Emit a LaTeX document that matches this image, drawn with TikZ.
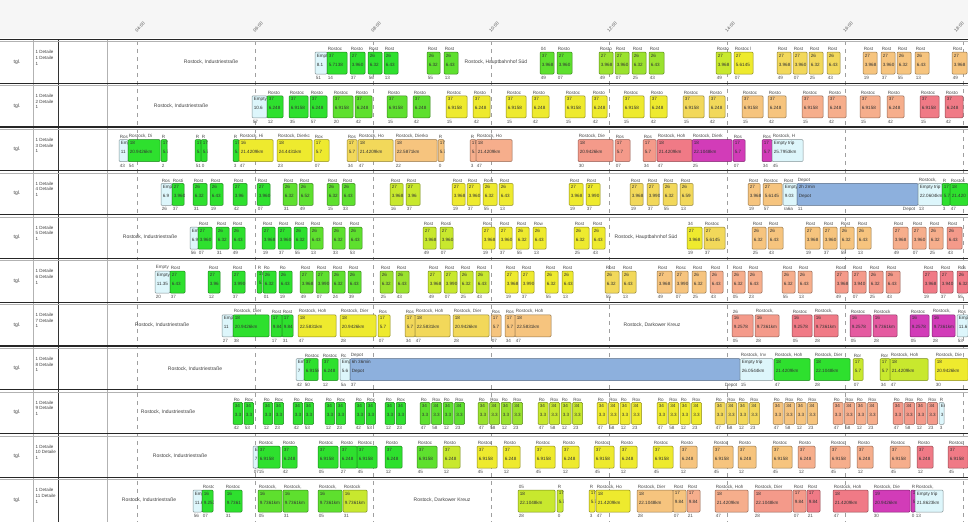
\documentclass[tikz,border=0pt]{standalone}
\usepackage{fontspec}
\setmainfont{Liberation Sans}

% Farben der Fahrten (Tagesverlauf)
\definecolor{gA}{HTML}{2EE02E}
\definecolor{gB}{HTML}{5EE02E}
\definecolor{gC}{HTML}{9AE22E}
\definecolor{gD}{HTML}{C8E82E}
\definecolor{gE}{HTML}{EEEA2E}
\definecolor{gF}{HTML}{F2D85A}
\definecolor{gG}{HTML}{F6C47E}
\definecolor{gH}{HTML}{F6AE8C}
\definecolor{gI}{HTML}{F49A8A}
\definecolor{gJ}{HTML}{F07A86}
\definecolor{gK}{HTML}{E55AA0}
\definecolor{gL}{HTML}{D23CB8}
\definecolor{leer}{HTML}{DDF6FB}
\definecolor{depot}{HTML}{8DB0DD}

\tikzset{
  fahrt/.style={draw=#1!60!black, fill=#1, line width=0.5pt, rounded corners=1pt,
    minimum height=22pt, inner sep=0pt, outer sep=0pt},
  innen/.style={font=\fontsize{4.6}{9}\selectfont, align=left, inner sep=1.6pt,
    anchor=north west, text=black!80},
  oben/.style={font=\fontsize{4.6}{5}\selectfont, inner sep=0.6pt, anchor=south west, text=black!70},
  unten/.style={font=\fontsize{4.6}{5}\selectfont, inner sep=0.6pt, anchor=north west, text=black!70},
  ort/.style={font=\fontsize{5}{6}\selectfont, text=black!75},
  spalte/.style={font=\fontsize{4.5}{5.6}\selectfont, align=left, anchor=north west,
    inner sep=0pt, text=black!75},
  zeit/.style={font=\fontsize{4.5}{5}\selectfont, rotate=45, text=black!70},
  gitter/.style={gray!75, line width=0.5pt, dash pattern=on 4pt off 4pt},
  trenn/.style={black!85, line width=1.3pt},
  trennb/.style={gray!60, line width=0.5pt},
}

% eine Fahrt: Name, x, Breite, Farbe, oben, innen 1, innen 2, unten
\newcommand{\fahrt}[8]{%
  \node[fahrt=#4, minimum width=#3pt] (#1) at (#2+#3/2, \T+23) {};
  \begin{scope}
    \clip (#2, \T+1) rectangle (#2+#3, \T+34);
    \node[oben] at (#2, \T+11.5) {#5};
    \node[innen] at (#1.north west) {#6\\#7};
  \end{scope}
  \node[unten] at (#2, \T+35.5) {#8};
}
% ein Umlauf (Zeile)
\newcommand{\umlauf}[2]{%
  \pgfmathsetmacro\T{40+43.8*(#1-1)}%
  \foreach \xa/\wb/\fb/\ob/\ia/\ib/\ub [count=\i] in {#2} {%
    \fahrt{r#1-\i}{\xa}{\wb}{\fb}{\ob}{\ia}{\ib}{\ub}}%
}

\begin{document}
\begin{tikzpicture}[x=1pt, y=-1pt]
  \useasboundingbox (0,0) rectangle (968,522);
  \fill[white] (0,0) rectangle (968,522);
  % Kopfzeile
  \fill[gray!7] (0,0) rectangle (968,38);

  % Zeitraster
  \foreach \g [count=\i] in {04,06,08,10,12,14,16,18} {
    \pgfmathsetmacro\gx{137+118*(\i-1)}
    \draw[gitter] (\gx, 41) -- (\gx, 522);
    \pgfmathsetmacro\lx{min(\gx+3, 959)}
    \node[zeit] (zeit-\i) at (\lx, 27) {\g:00};
  }

  % Spalten links
  \draw[gray!60, line width=0.5pt] (33,40) -- (33,522);
  \draw[black!80, line width=1pt] (58,40) -- (58,522);
  \draw[gray!60, line width=0.5pt] (107,40) -- (107,522);

  % Zeilen
  \foreach \k in {1,...,11} {
    \pgfmathsetmacro\T{40+43.8*(\k-1)}
    \draw[trenn] (0, \T-0.6) -- (968, \T-0.6);
    \draw[trennb] (0, \T+1.6) -- (968, \T+1.6);
    \node[ort] (tgl-\k) at (17, \T+22) {tgl.};
    \begin{scope}
      \clip (34, \T+2) rectangle (57.5, \T+43);
      \node[spalte] (det-\k) at (35.5, \T+10.5) {1 Detaile\\\k\ Detaile\\1};
    \end{scope}
  }

  % Haltestellen ohne Fahrt
  \node[ort] (h1) at (211, 62) {Rostock, Industriestraße};
  \node[ort] (h1b) at (496, 62) {Rostock, Hauptbahnhof Süd};
  \node[ort] (h2) at (181, 105.8) {Rostock, Industriestraße};
  \node[ort] (h5) at (150, 237.2) {Rostock, Industriestraße};
  \node[ort] (h5b) at (646, 237.2) {Rostock, Hauptbahnhof Süd};
  \node[ort] (h7) at (162, 324.8) {Rostock, Industriestraße};
  \node[ort] (h7b) at (652, 324.8) {Rostock, Darkower Kreuz};
  \node[ort] (h8) at (195, 368.6) {Rostock, Industriestraße};
  \node[ort] (h9) at (168, 412.4) {Rostock, Industriestraße};
  \node[ort] (h10) at (180, 456.2) {Rostock, Industriestraße};
  \node[ort] (h11) at (149, 500) {Rostock, Industriestraße};
  \node[ort] (h11b) at (442, 500) {Rostock, Darkower Kreuz};

  % Umlauf 1
  \umlauf{1}{315/12/leer/{}/{Empty trip}/{8.1}/51, 327/20/gA/{Rostoc}/{37}/{5.7138}/14,
    350/15/gA/{Rosto}/{27}/{3.960}/37, 368/14/gA/{Rost}/{26}/{6.32}/56,
    384/14/gA/{Rost}/{26}/{6.43}/13, 427/13/gB/{Rost}/{26}/{6.32}/55,
    444/14/gB/{Rost}/{26}/{6.43}/13, 540/14/gB/{04}/{37}/{3.968}/49,
    557/15/gB/{Rosto}/{27}/{3.960}/07, 599/14/gC/{Rosto}/{27}/{3.968}/49,
    615/14/gC/{Rost}/{27}/{3.960}/07, 632/14/gC/{Rost}/{26}/{6.32}/25,
    649/15/gC/{Rost}/{26}/{6.43}/43, 716/15/gD/{Rosto}/{27}/{3.968}/49,
    734/19/gE/{Rostoc l}/{27}/{5.6145}/07, 777/14/gF/{Rost}/{27}/{3.968}/49,
    793/14/gF/{Rost}/{27}/{3.960}/07, 809/14/gF/{Rost}/{26}/{6.32}/25,
    827/13/gF/{Rost}/{26}/{6.43}/43, 863/14/gG/{Rost}/{27}/{3.968}/19,
    881/14/gG/{Rost}/{27}/{3.960}/37, 897/14/gG/{Rost}/{26}/{6.32}/55,
    915/14/gG/{Rost}/{26}/{6.43}/13, 952/15/gG/{Rost}/{27}/{3.968}/49}

  % Umlauf 2
  \umlauf{2}{252/15/leer/{}/{Empty trip}/{10.6}/57, 267/16/gA/{Rosto}/{37}/{6.248}/12,
    289/19/gA/{Rostoc}/{37}/{6.9158}/35, 310/17/gA/{Rosto}/{37}/{6.248}/57,
    333/20/gB/{Rostoc}/{37}/{6.9158}/20, 355/17/gB/{Rosto}/{37}/{6.248}/42,
    387/20/gB/{Rosto}/{37}/{6.9158}/15, 413/17/gB/{Rosto}/{37}/{6.248}/42,
    446/21/gE/{Rostoc}/{37}/{6.9158}/15, 473/17/gE/{Rosto}/{37}/{6.248}/42,
    506/20/gE/{Rostoc}/{37}/{6.9158}/15, 532/17/gE/{Rosto}/{37}/{6.248}/42,
    565/20/gE/{Rostoc}/{37}/{6.9158}/15, 592/15/gE/{Rosto}/{37}/{6.248}/42,
    623/21/gE/{Rostoc}/{37}/{6.9158}/15, 650/17/gE/{Rosto}/{37}/{6.248}/42,
    683/21/gF/{Rostoc}/{37}/{6.9158}/15, 709/16/gF/{Rosto}/{37}/{6.248}/42,
    742/21/gG/{Rostoc}/{37}/{6.9158}/15, 768/18/gG/{Rosto}/{37}/{6.248}/42,
    802/21/gH/{Rostoc}/{37}/{6.9158}/15, 828/18/gH/{Rosto}/{37}/{6.248}/42,
    860/20/gH/{Rostoc}/{37}/{6.9158}/15, 887/17/gH/{Rosto}/{37}/{6.248}/42,
    920/19/gJ/{Rostoc}/{37}/{6.9158}/15, 945/18/gJ/{Rosto}/{37}/{6.248}/42}

  % Umlauf 3
  \umlauf{3}{119/9/leer/{Ros}/{Empty trip}/{11}/43, 128/32/gA/{Rostock, Di}/{18}/{20.9426km}/54,
    161/6/gA/{R}/{17}/{5.7}/2, 195/6/gA/{R}/{17}/{5.7}/51, 201/6/gA/{R}/{17}/{5.7}/0,
    233/6/gA/{R}/{17}/{5.7}/3, 239/34/gE/{Rostock, Hi}/{16}/{21.4209km}/47,
    277/35/gE/{Rostock, Dierkc}/{18}/{24.4431km}/23, 314/15/gE/{Rox}/{17}/{5.7}/07,
    347/10/gF/{Ros}/{17}/{5.7}/34, 358/35/gF/{Rostock, Ho}/{18}/{21.4209km}/47,
    395/42/gG/{Rostock, Dierko}/{18}/{22.5871km}/22, 438/6/gG/{R}/{17}/{5.7}/0,
    470/6/gH/{R}/{17}/{5.7}/3, 476/36/gH/{Rostock, Ho}/{18}/{21.4209km}/47,
    578/35/gI/{Rostock, Die}/{18}/{20.9426km}/30, 615/15/gI/{Ros}/{17}/{5.7}/07,
    643/13/gI/{Ros}/{17}/{5.7}/34, 657/35/gJ/{Rostock, Hoh}/{18}/{21.4209km}/47,
    692/40/gL/{Rostock, Dierk}/{18}/{22.1048km}/25, 733/12/gL/{Ros}/{17}/{5.7}/07,
    762/10/gL/{Ros}/{17}/{5.7}/34, 772/31/leer/{Rostock, H}/{Empty trip}/{25.7953km}/45}

  % Umlauf 4
  \umlauf{4}{161/11/leer/{Ros}/{Empty trip}/{6.9}/26, 172/12/gA/{Rosti}/{27}/{3.960}/37,
    193/14/gA/{Rost}/{26}/{6.32}/31, 210/13/gA/{Rost}/{26}/{6.43}/19,
    233/14/gA/{Rost}/{27}/{3.96}/42, 257/13/gA/{Rost}/{27}/{3.960}/07,
    283/14/gB/{Rost}/{26}/{6.32}/31, 299/14/gB/{Rost}/{26}/{6.52}/49,
    327/12/gB/{Rost}/{26}/{6.32}/15, 342/13/gB/{Rost}/{26}/{6.43}/33,
    390/13/gD/{Rost}/{27}/{3.968}/16, 406/14/gD/{Rost}/{27}/{3.96}/37,
    452/13/gE/{Rost}/{27}/{3.968}/19, 467/13/gE/{Rost}/{27}/{3.960}/37,
    483/14/gE/{Rost}/{26}/{6.32}/55, 499/14/gE/{Rost}/{26}/{6.43}/13,
    569/14/gE/{Rost}/{27}/{3.968}/19, 586/14/gE/{Rost}/{27}/{3.990}/37,
    630/13/gF/{Rost}/{27}/{3.968}/19, 647/12/gF/{Rost}/{27}/{3.990}/37,
    663/14/gF/{Rost}/{26}/{6.32}/55, 680/13/gF/{Rost}/{26}/{6.59}/13,
    748/12/gG/{Rost}/{27}/{3.968}/19, 763/19/gG/{Rostoc}/{27}/{5.6145}/57,
    783/14/leer/{Rost}/{Empty trip}/{9.03}/{ra6a}, 797/121/depot/{Depot}/{2h 2min}/{Depot}/11,
    918/24/leer/{Rostock,}/{Empty trip}/{22.0604km}/13, 942/8/gA/{R}/{17}/{5.7}/3,
    950/18/gA/{Rostoc}/{18}/{21.420}/47}
  \node[unten, anchor=north east] (dep4) at (916, 206.9) {Depot};

  % Umlauf 5
  \umlauf{5}{190/8/leer/{}/{Empty trip}/{6.9}/56, 198/14/gA/{Rost}/{27}/{3.960}/07,
    216/13/gA/{Rost}/{26}/{6.32}/31, 232/13/gA/{Rost}/{26}/{6.43}/49,
    262/13/gA/{Rost}/{27}/{3.968}/19, 278/13/gA/{Rost}/{27}/{3.960}/37,
    294/13/gA/{Rost}/{26}/{6.32}/55, 310/13/gB/{Rost}/{26}/{6.43}/13,
    332/13/gB/{Rost}/{26}/{6.32}/33, 349/13/gB/{Rost}/{26}/{6.43}/53,
    423/13/gD/{Rost}/{27}/{3.968}/49, 440/13/gD/{Rosti}/{27}/{3.960}/07,
    482/13/gE/{Rost}/{27}/{3.968}/19, 499/13/gE/{Rost}/{27}/{3.960}/37,
    516/13/gE/{Rost}/{26}/{6.32}/55, 533/13/gE/{Row}/{26}/{6.43}/13,
    574/15/gE/{Rost}/{26}/{6.32}/25, 592/13/gE/{Rost}/{26}/{6.43}/43,
    687/15/gE/{34}/{27}/{3.968}/19, 704/21/gF/{Rostoc}/{27}/{5.6145}/37,
    752/14/gG/{Rost}/{26}/{6.32}/25, 768/15/gG/{Rost}/{26}/{6.43}/43,
    805/15/gG/{Rost}/{27}/{3.968}/19, 823/14/gG/{Rost}/{27}/{3.960}/37,
    840/14/gG/{Rost}/{26}/{6.32}/55, 857/14/gG/{Rost}/{26}/{6.43}/13,
    893/15/gH/{Rost}/{27}/{3.968}/49, 912/14/gH/{Rost}/{27}/{3.960}/07,
    929/14/gH/{Rost}/{26}/{6.32}/25, 947/15/gI/{Rost}/{26}/{6.43}/43}

  % Umlauf 6
  \umlauf{6}{155/15/leer/{Empty}/{Empty trip}/{11.35}/20, 170/15/gA/{Rost}/{27}/{6.43}/37,
    208/12/gA/{Rost}/{27}/{3.96}/12, 232/13/gA/{Rost}/{27}/{3.990}/37,
    257/5/gA/{R}/{17}/{5.7}/{}, 263/13/gA/{Ro}/{26}/{6.32}/{01},
    279/13/gA/{Ro}/{26}/{6.43}/19, 300/13/gB/{Rost}/{27}/{3.968}/49,
    316/13/gB/{Rost}/{27}/{3.990}/07, 332/13/gB/{Rost}/{26}/{6.32}/24,
    348/13/gB/{Rost}/{26}/{6.43}/39, 380/13/gC/{Rost}/{26}/{6.32}/25,
    396/13/gC/{Rost}/{26}/{6.43}/43, 428/13/gD/{Rost}/{27}/{3.968}/49,
    444/13/gD/{Rost}/{27}/{3.990}/07, 460/13/gD/{Rost}/{26}/{6.32}/25,
    476/13/gD/{Rost}/{26}/{6.43}/43, 505/13/gE/{Rost}/{27}/{3.968}/19,
    521/13/gE/{Rost}/{27}/{3.990}/37, 545/13/gE/{Rost}/{26}/{6.32}/55,
    562/11/gE/{Rost}/{26}/{6.43}/13, 605/14/gF/{Rost}/{26}/{6.32}/55,
    622/14/gF/{Rost}/{26}/{6.43}/13, 657/15/gG/{Rost}/{27}/{3.968}/49,
    675/13/gG/{Rosc}/{27}/{3.990}/07, 692/14/gG/{Rost}/{26}/{6.32}/25,
    710/13/gH/{Rost}/{26}/{6.43}/43, 732/13/gH/{Rost}/{26}/{6.32}/05,
    748/14/gH/{Rost}/{26}/{6.43}/23, 782/13/gH/{Rost}/{26}/{6.32}/55,
    798/14/gH/{Rost}/{26}/{6.43}/13, 835/13/gI/{Rost}/{27}/{3.968}/49,
    852/14/gI/{Rost}/{27}/{3.940}/07, 869/14/gI/{Rost}/{26}/{6.32}/25,
    886/14/gI/{Rost}/{26}/{6.43}/43, 923/14/gJ/{Rost}/{27}/{3.968}/19,
    940/13/gJ/{Rost}/{27}/{3.940}/37, 957/11/gJ/{Ros}/{26}/{6.32}/55}

  % Umlauf 7
  \umlauf{7}{222/11/leer/{}/{Empty trip}/{11}/27, 233/36/gA/{Rostock, Dier}/{18}/{20.9426km}/38,
    271/11/gA/{Rost}/{17}/{9.84}/17, 282/11/gA/{Rost}/{17}/{9.84}/31,
    298/38/gE/{Rostock, Hoh}/{18}/{22.5831km}/47, 340/36/gE/{Rostock, Dier}/{18}/{20.9426km}/28,
    378/12/gE/{Ros}/{17}/{5.7}/07, 405/10/gF/{Ros}/{17}/{5.7}/34,
    415/35/gF/{Rostock, Hoh}/{18}/{22.5831km}/47, 453/36/gF/{Rostock, Dier}/{18}/{20.9426km}/28,
    491/10/gG/{Ros}/{17}/{5.7}/07, 505/10/gG/{Ros}/{17}/{5.7}/34,
    515/36/gG/{Rostock, Hoh}/{18}/{22.5831km}/47,
    732/21/gI/{26}/{16}/{9.2578}/05, 755/24/gI/{Rostock,}/{16}/{9.7361km}/28,
    792/20/gJ/{Rostoc}/{16}/{9.2578}/05, 814/24/gJ/{Rostock,}/{16}/{9.7361km}/28,
    850/21/gK/{Rostoc}/{16}/{9.2578}/05, 873/24/gK/{Rostock}/{16}/{9.7361km}/28,
    910/19/gL/{Rostoc}/{16}/{9.2578}/05, 932/23/gL/{Rostock,}/{16}/{9.7361km}/28,
    957/11/leer/{Ros}/{Empty trip}/{11.6}/53}

  % Umlauf 8
  \umlauf{8}{296/8/leer/{}/{Empty trip}/{7}/42, 304/14/gA/{Rostoc}/{37}/{6.9158}/50,
    322/16/gA/{Rostoc}/{37}/{6.248}/12, 340/10/leer/{Rc}/{Empty trip}/{5.6}/{5a},
    350/390/depot/{Depot}/{6h 36min}/{Depot}/37,
    740/33/leer/{Rostock, Inv}/{Empty trip}/{26.0544km}/15,
    774/36/gA/{Rostock, Hoh}/{18}/{21.4209km}/47, 814/36/gA/{Rostock, Dier}/{18}/{22.1048km}/28,
    853/10/gD/{Ror}/{17}/{5.7}/07, 880/10/gD/{Ror}/{17}/{5.7}/34,
    890/38/gD/{Rostock, Hoh}/{18}/{21.4209km}/47, 935/33/gE/{Rostock, Die}/{18}/{20.9426km}/30}
  \node[unten, anchor=north east] (dep8) at (738, 382.1) {Depot};

  % Umlauf 9
  \pgfmathsetmacro\T{40+43.8*8}
  \foreach \xa/\ua/\ub [count=\i] in {233/42/53, 263/12/23, 293/42/53, 325/12/23, 355/42/53, 385/12/23} {
    \fahrt{p9-\i-a}{\xa}{9.5}{gA}{Ro}{34}{3.3}{\ua}
    \fahrt{p9-\i-b}{\xa+11}{9.5}{gA}{Rox}{34}{3.3}{\ub}
  }
  \foreach \xa/\fb [count=\j] in {420/gB, 478/gC, 538/gD, 597/gE, 657/gE, 715/gF, 773/gG, 833/gH, 893/gI} {
    \foreach \d/\ob/\ub [count=\k] in {0/Ro/47, 11.5/Rox/58, 23/Ro/12, 34.5/Rox/23} {
      \fahrt{q9-\j-\k}{\xa+\d}{10}{\fb}{\ob}{34}{3.3}{\ub}
    }
  }
  \fahrt{r9-e}{939}{5}{leer}{R}{Empty trip}{3}{3}

  % Umlauf 10
  \umlauf{10}{253/5/leer/{}/{Empty trip}/{7}/{07}, 258/22/gA/{Rostoc}/{37}/{6.9158}/15,
    282/15/gA/{Rosto}/{37}/{6.248}/42, 318/20/gA/{Rostoc}/{37}/{6.9158}/05,
    340/17/gA/{Rosto}/{37}/{6.248}/27, 357/20/gA/{Rostoc}/{37}/{6.9158}/45,
    385/17/gA/{Rosto}/{37}/{6.248}/12, 417/20/gB/{Rostoc}/{37}/{6.9158}/45,
    443/17/gD/{Rosto}/{37}/{6.248}/12, 477/20/gE/{Rostoc}/{37}/{6.9158}/45,
    503/17/gE/{Rosto}/{37}/{6.248}/12, 535/20/gE/{Rostoc}/{37}/{6.9158}/45,
    562/17/gE/{Rosto}/{37}/{6.248}/12, 594/20/gE/{Rostoc}/{37}/{6.9158}/45,
    620/17/gE/{Rosto}/{37}/{6.248}/12, 653/20/gE/{Rostoc}/{37}/{6.9158}/45,
    680/17/gG/{Rosto}/{37}/{6.248}/12, 713/20/gG/{Rostoc}/{37}/{6.9158}/45,
    738/18/gG/{Rosto}/{37}/{6.248}/12, 772/20/gG/{Rostoc}/{37}/{6.9158}/45,
    798/17/gH/{Rosto}/{37}/{6.248}/12, 830/20/gH/{Rostoc}/{37}/{6.9158}/45,
    857/16/gH/{Rosto}/{37}/{6.248}/12, 890/20/gH/{Rostoc}/{37}/{6.9158}/45,
    917/16/gJ/{Rosto}/{37}/{6.248}/12, 948/20/gJ/{Rostoc}/{37}/{6.9158}/45}

  % Umlauf 11
  \umlauf{11}{193/9/leer/{}/{Empty trip}/{11.6}/56, 202/11/gA/{Rostoc}/{16}/{9.257}/07,
    225/17/gA/{Rostoc}/{16}/{9.7361}/31, 258/24/gB/{Rostock,}/{16}/{9.7361km}/05,
    283/25/gB/{Rostock,}/{16}/{9.7361km}/31, 318/24/gB/{Rostock,}/{16}/{9.7361km}/05,
    343/24/gD/{Rostock}/{16}/{9.7361km}/31, 518/37/gD/{05}/{18}/{22.1048km}/28,
    557/6/gD/{R}/{17}/{5.7}/0, 589/6/gE/{R}/{17}/{5.7}/3,
    596/34/gE/{Rostock, Ho}/{18}/{21.4209km}/47, 637/36/gG/{Rostock, Dier}/{18}/{22.1048km}/28,
    673/13/gG/{Rost}/{17}/{9.84}/07, 687/13/gH/{Rost}/{17}/{9.84}/21,
    715/33/gH/{Rostock, Hoh}/{18}/{21.4209km}/47, 754/38/gI/{Rostock, Dier}/{18}/{22.1048km}/28,
    793/13/gI/{Rost}/{17}/{9.84}/07, 807/13/gJ/{Rost}/{17}/{9.84}/21,
    833/35/gJ/{Rostock, Hoh}/{18}/{21.4209km}/47, 873/37/gL/{Rostock, Die}/{19}/{20.9426km}/30,
    911/4/gL/{R}/{17}/{5.7}/0, 915/28/leer/{Rostock,}/{Empty trip}/{21.8623km}/13}
\end{tikzpicture}
\end{document}
